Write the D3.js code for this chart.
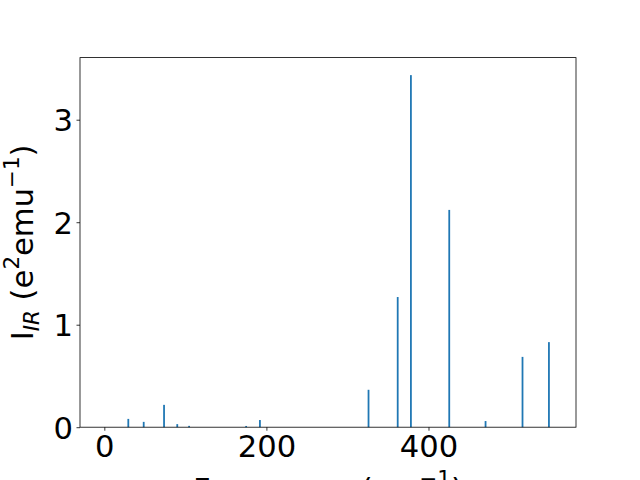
<!DOCTYPE html>
<html>
<head>
<meta charset="utf-8">
<script src="https://cdn.jsdelivr.net/npm/d3@7"></script>
<style>
  body { margin: 0; background: #fff; }
  text { font-family: "DejaVu Sans", sans-serif; fill: #000; }
</style>
</head>
<body>
<svg id="chart" width="640" height="480"></svg>
<script>
// 频率与红外强度
const frequencies = [29.6, 48.6, 73.7, 90, 104.6, 175, 192, 326, 362, 378.3, 425.6, 470.4, 516, 548.6];
const intensities = [0.081, 0.052, 0.218, 0.03, 0.013, 0.012, 0.07, 0.365, 1.27, 3.435, 2.12, 0.06, 0.686, 0.83];
const xTicks = [0, 200, 400];
const yTicks = [0, 1, 2, 3];

const svg = d3.select("#chart");
const margin = { left: 80, right: 64, top: 57.6, bottom: 52.8 };
const width = 640, height = 480;
const fontSize = 30.6;
const barWidth = 2.2; // cm^-1

const x = d3.scaleLinear()
    .domain([-30, 582])
    .range([margin.left, width - margin.right]);

const y = d3.scaleLinear()
    .domain([0, 3.606])
    .range([height - margin.bottom, margin.top]);

// 柱状
svg.append("g")
    .selectAll("rect")
    .data(frequencies.map((f, i) => [f, intensities[i]]))
    .enter()
    .append("rect")
    .attr("x", d => x(d[0] - barWidth / 2))
    .attr("width", d => x(d[0] + barWidth / 2) - x(d[0] - barWidth / 2))
    .attr("y", d => y(d[1]))
    .attr("height", d => y(0) - y(d[1]))
    .attr("fill", "#1f77b4");

// 坐标轴
const xAxis = svg.append("g")
    .attr("transform", `translate(0,${y(0)})`)
    .call(d3.axisBottom(x).tickValues(xTicks).tickSize(3.5).tickPadding(3.5).tickFormat(d3.format("d")));

const yAxis = svg.append("g")
    .attr("transform", `translate(${x.range()[0]},0)`)
    .call(d3.axisLeft(y).tickValues(yTicks).tickSize(3.5).tickPadding(3.5).tickFormat(d3.format("d")));

[xAxis, yAxis].forEach(g => {
    g.select(".domain").remove();
    g.selectAll(".tick line").attr("stroke", "#000").attr("stroke-width", 0.8);
    g.selectAll(".tick text").attr("font-size", fontSize).attr("font-family", "DejaVu Sans").attr("fill", "#000");
});
xAxis.selectAll(".tick text").attr("dy", null).attr("y", 3.5 + 3.5 + 0.74 * fontSize);
yAxis.selectAll(".tick text").attr("dy", null).attr("y", 0.36 * fontSize);

// 边框
svg.append("rect")
    .attr("x", margin.left)
    .attr("y", margin.top)
    .attr("width", width - margin.left - margin.right)
    .attr("height", height - margin.top - margin.bottom)
    .attr("fill", "none")
    .attr("stroke", "#000")
    .attr("stroke-width", 0.8);

// x 轴标题
const xl = svg.append("text")
    .attr("x", (x.range()[0] + x.range()[1]) / 2)
    .attr("y", 500)
    .attr("text-anchor", "middle")
    .attr("font-size", fontSize);
xl.append("tspan").text("Frequency (cm");
xl.append("tspan").attr("font-size", fontSize * 0.7).attr("dy", -14).text("\u22121");
xl.append("tspan").attr("dy", 14).text(")");

// y 轴标题
const yl = svg.append("text")
    .attr("transform", `translate(33,${(y.range()[0] + y.range()[1]) / 2}) rotate(-90)`)
    .attr("text-anchor", "middle")
    .attr("font-size", fontSize);
yl.append("tspan").text("I");
yl.append("tspan").attr("font-size", fontSize * 0.7).attr("font-style", "italic").attr("dy", 6).text("IR");
yl.append("tspan").attr("dy", -6).text(" (e");
yl.append("tspan").attr("font-size", fontSize * 0.7).attr("dy", -14).text("2");
yl.append("tspan").attr("dy", 14).text("emu");
yl.append("tspan").attr("font-size", fontSize * 0.7).attr("dy", -14).text("\u22121");
yl.append("tspan").attr("dy", 14).text(")");
</script>
</body>
</html>
